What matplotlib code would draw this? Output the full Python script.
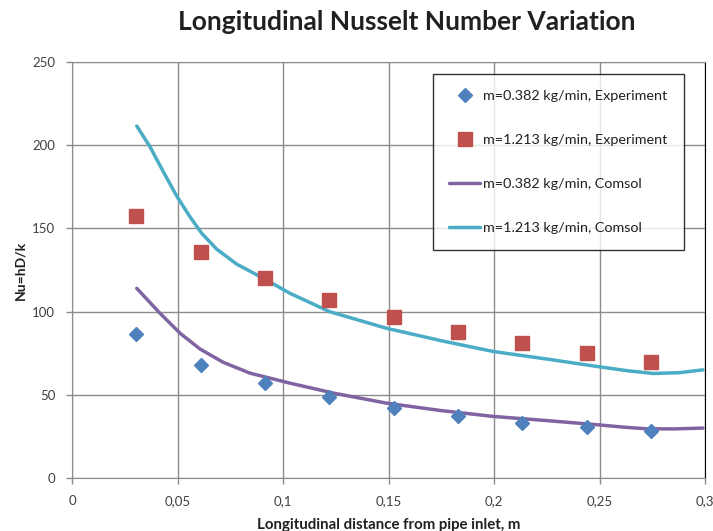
import matplotlib
matplotlib.use("Agg")
import matplotlib.pyplot as plt
from matplotlib.ticker import FixedLocator

plt.rcParams['font.family'] = ['Lato', 'DejaVu Sans']

# Experimental points
x_exp = [0.0305, 0.061, 0.0915, 0.122, 0.1525, 0.183, 0.2135, 0.244, 0.2745]
nu_low_exp = [86.5, 68, 57, 48.5, 42, 37.5, 33, 30.5, 28]
nu_high_exp = [157.5, 136, 120, 107, 96.5, 88, 81, 75, 69.5]

# Comsol curves
x_low_cs = [0.0307, 0.0417, 0.0512, 0.0607, 0.0717, 0.0844, 0.1033, 0.124, 0.149,
            0.175, 0.1997, 0.225, 0.249, 0.262, 0.272, 0.285, 0.299]
nu_low_cs = [114, 99, 87, 77.5, 69.5, 63, 57, 51, 45, 40.5, 37, 34.5, 32, 30.5, 29.6, 29.5, 30]
x_high_cs = [0.0307, 0.037, 0.0433, 0.0496, 0.0559, 0.0615, 0.0686, 0.0781, 0.0907,
             0.1033, 0.122, 0.149, 0.175, 0.1997, 0.225, 0.249, 0.263, 0.2755, 0.288, 0.299]
nu_high_cs = [211.5, 199, 184, 169.5, 157, 147, 137.5, 128.5, 120, 111, 100, 90, 82.5, 76,
              71.5, 67, 64.5, 62.8, 63.3, 65]

labels = ["m=0.382 kg/min, Experiment", "m=1.213 kg/min, Experiment",
          "m=0.382 kg/min, Comsol", "m=1.213 kg/min, Comsol"]
xticks = [0, 0.05, 0.1, 0.15, 0.2, 0.25, 0.3]
xticklabels = ["0", "0,05", "0,1", "0,15", "0,2", "0,25", "0,3"]
yticks = [0, 50, 100, 150, 200, 250]

fig = plt.figure(figsize=(7.13, 5.31), dpi=100)
ax = fig.add_axes([72/713, 53/531, 633/713, 416/531])

ax.plot(x_exp, nu_low_exp, linestyle='none', marker='D', color='#4F81BD',
        markersize=7, label=labels[0], zorder=3)
ax.plot(x_exp, nu_high_exp, linestyle='none', marker='s', color='#C0504D',
        markersize=9.5, label=labels[1], zorder=3)
ax.plot(x_low_cs, nu_low_cs, color='#8064A2', linewidth=2.5, label=labels[2], zorder=2,
        solid_capstyle='round', solid_joinstyle='round')
ax.plot(x_high_cs, nu_high_cs, color='#4BACC6', linewidth=2.5, label=labels[3], zorder=2,
        solid_capstyle='round', solid_joinstyle='round')

ax.set_xlim(0, 0.3)
ax.set_ylim(0, 250)
ax.xaxis.set_major_locator(FixedLocator(xticks))
ax.set_xticklabels(xticklabels)
ax.yaxis.set_major_locator(FixedLocator(yticks))
ax.grid(True, color='#8C8C8C', linewidth=1)
ax.set_axisbelow(True)
for s in ['left', 'bottom', 'top']:
    ax.spines[s].set_color('#8C8C8C')
ax.spines['right'].set_color('#000000')
ax.tick_params(axis='both', colors='#8C8C8C', labelcolor='#404040', labelsize=9.5,
               length=4, width=1)
ax.tick_params(axis='x', pad=8)
ax.tick_params(axis='y', pad=8)

ax.set_xlabel("Longitudinal distance from pipe inlet, m", fontsize=10.8, fontweight='bold',
              color='#202020', labelpad=8)
ax.set_ylabel("Nu=hD/k", fontsize=10, fontweight='bold', color='#202020', labelpad=4)
fig.text(407/713, 1 - 22/531, "Longitudinal Nusselt Number Variation", fontsize=19,
         fontweight='bold', ha='center', va='center', color='#202020')

leg = ax.legend(loc='upper left', bbox_to_anchor=(0.570, 0.971), fontsize=10.4,
                frameon=True, fancybox=False, labelspacing=2.2, borderpad=1.1,
                handlelength=2.2, handletextpad=0.2, borderaxespad=0)
leg.get_frame().set_edgecolor('#000000')
leg.get_frame().set_linewidth(1)
for t in leg.get_texts():
    t.set_color('#202020')

fig.savefig("out.png", dpi=100)
